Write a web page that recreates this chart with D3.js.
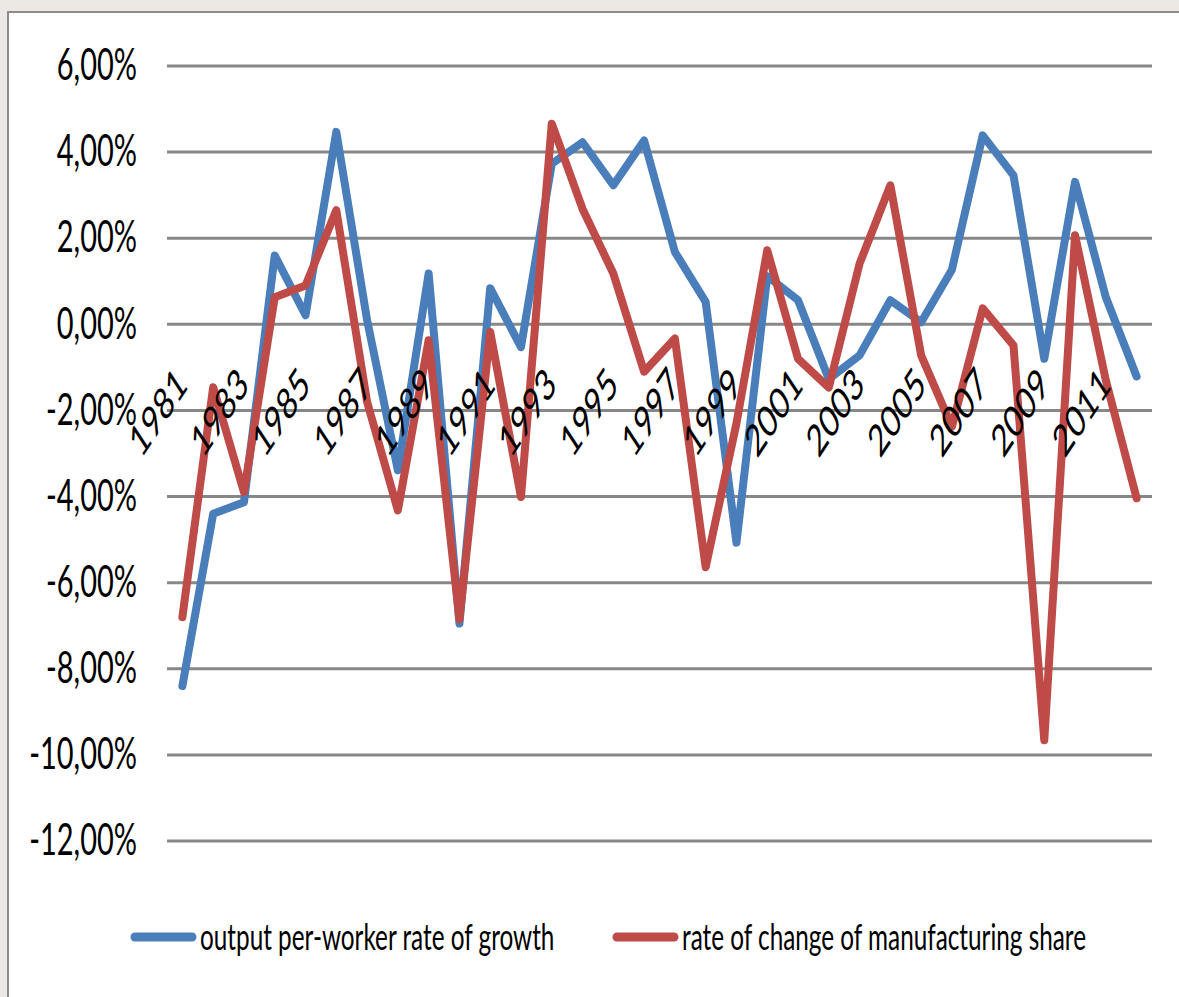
<!DOCTYPE html>
<html>
<head>
<meta charset="utf-8">
<script src="https://cdn.jsdelivr.net/npm/d3@7"></script>
<style>
  html, body { margin: 0; padding: 0; background: #ece9e5; }
  svg { display: block; }
  text { font-family: Lato, "Open Sans", sans-serif; fill: #000; }
</style>
</head>
<body>
<svg id="chart" width="1179" height="997"></svg>
<script>
// Years on the category axis
const years = d3.range(1981, 2013);
// Year labels shown on the axis (every other year)
const yearLabels = years.filter(y => y % 2 === 1);
// Output per-worker rate of growth, in percent
const outputGrowth = [-8.4, -4.4, -4.13, 1.6, 0.21, 4.47, 0.1, -3.39, 1.18, -6.95,
  0.84, -0.53, 3.73, 4.23, 3.23, 4.27, 1.68, 0.52, -5.07, 1.12,
  0.56, -1.27, -0.72, 0.56, 0.05, 1.27, 4.39, 3.46, -0.8, 3.31,
  0.63, -1.21];
// Rate of change of manufacturing share, in percent
const manufShare = [-6.8, -1.46, -3.9, 0.63, 0.9, 2.65, -1.8, -4.32, -0.37, -6.85,
  -0.18, -4.01, 4.66, 2.68, 1.18, -1.1, -0.33, -5.64, -2.3, 1.72,
  -0.8, -1.47, 1.41, 3.23, -0.72, -2.38, 0.37, -0.49, -9.66, 2.07,
  -1.3, -4.04];
// Value axis ticks
const yTicks = d3.range(-12, 7, 2);
const seriesNames = ["output per-worker rate of growth", "rate of change of manufacturing share"];
const seriesColors = ["#4a7ebb", "#be4b48"];

const STRETCH = 1.52;   // vertical stretch applied to all lettering

const svg = d3.select("#chart");

// page and chart area frame
svg.append("rect").attr("width", 1179).attr("height", 997).attr("fill", "#ece9e5");
svg.append("rect").attr("x", 8).attr("y", 12).attr("width", 1200).attr("height", 1000)
  .attr("fill", "#fff").attr("stroke", "#8c8c8c").attr("stroke-width", 2);

const x = d3.scalePoint().domain(years).range([167, 1152]).padding(0.5);
const y = d3.scaleLinear().domain([-12, 6]).range([841, 66]);

const locale = d3.formatLocale({decimal: ",", thousands: ".", grouping: [3], currency: ["", "€"], minus: "-"});
const fmt = locale.format(".2f");

// horizontal gridlines
svg.append("g").selectAll("line").data(yTicks).join("line")
  .attr("x1", 167).attr("x2", 1152)
  .attr("y1", d => y(d)).attr("y2", d => y(d))
  .attr("stroke", "#878787").attr("stroke-width", 3);

// value axis labels
const yAxis = svg.append("g").attr("transform", "translate(167,0)")
  .call(d3.axisLeft(y).tickValues(yTicks).tickSize(0).tickFormat(d => fmt(d) + "%"));
yAxis.select(".domain").remove();
yAxis.selectAll("text")
  .attr("x", null).attr("dy", "0.31em")
  .attr("font-size", 29).attr("font-family", null)
  .attr("text-anchor", "end")
  .attr("transform", `translate(-30,0) scale(1,${STRETCH})`);

// series lines
const line = d3.line().x((d, i) => x(years[i])).y(d => y(d));
[outputGrowth, manufShare].forEach((s, k) => {
  svg.append("path").datum(s)
    .attr("d", line)
    .attr("fill", "none")
    .attr("stroke", seriesColors[k])
    .attr("stroke-width", 8)
    .attr("stroke-linejoin", "round")
    .attr("stroke-linecap", "round");
});

// category axis labels, rotated, drawn over the lines
const xAxis = svg.append("g").attr("transform", "translate(0,387)")
  .call(d3.axisBottom(x).tickValues(yearLabels).tickSize(0));
xAxis.select(".domain").remove();
xAxis.selectAll("text")
  .attr("y", null).attr("dy", null)
  .attr("font-size", 29).attr("font-family", null)
  .attr("text-anchor", "end")
  .attr("transform", `translate(6,0) scale(1,${STRETCH}) rotate(-45)`);

// legend
const legendX = [135, 617];
const legend = svg.append("g").attr("transform", "translate(0,937)");
seriesNames.forEach((name, k) => {
  const g = legend.append("g").attr("transform", `translate(${legendX[k]},0)`);
  g.append("line").attr("x1", 0).attr("x2", 57)
    .attr("stroke", seriesColors[k]).attr("stroke-width", 9).attr("stroke-linecap", "round");
  g.append("text").attr("font-size", 24.3)
    .attr("transform", `translate(65,0) scale(1,${STRETCH})`)
    .attr("dy", "0.35em")
    .text(name);
});
</script>
</body>
</html>
